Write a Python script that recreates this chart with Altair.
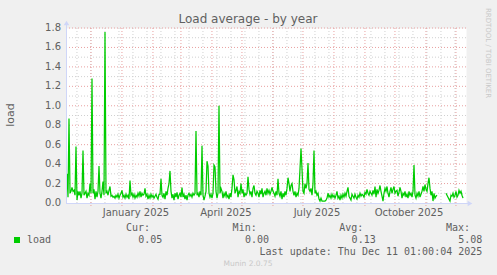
import altair as alt
import pandas as pd

# ---------------- data ----------------
START = pd.Timestamp("2024-11-06 01:00:00")
END = pd.Timestamp("2025-12-11 01:00:00")
DAY = pd.Timedelta(days=1)
SPAN = (END - START) / DAY  # 400 days shown

# daily load average, day 1 .. 397 after START (None = no data)
load = [
    0.30, 0.06, 0.87, 0.10, 0.12, 0.16, 0.12, 0.13, 0.08, 0.58,
    0.03, 0.12, 0.08, 0.12, 0.05, 0.10, 0.54, 0.08, 0.10, 0.12,
    0.05, 0.10, 0.08, 0.20, 0.10, 1.28, 0.10, 0.14, 0.04, 0.12,
    0.06, 0.12, 0.38, 0.10, 0.05, 0.12, 0.22, 0.08, 1.76, 0.10,
    0.12, 0.08, 0.13, 0.17, 0.07, 0.08, 0.06, 0.07, 0.05, 0.08,
    0.06, 0.09, 0.05, 0.08, 0.10, 0.13, 0.06, 0.08, 0.05, 0.09,
    0.06, 0.08, 0.04, 0.23, 0.08, 0.10, 0.06, 0.09, 0.05, 0.08,
    0.06, 0.10, 0.07, 0.12, 0.06, 0.10, 0.08, 0.09, 0.15, 0.07,
    0.09, 0.04, 0.08, 0.05, 0.09, 0.06, 0.08, 0.05, 0.07, 0.09,
    0.06, 0.04, 0.09, 0.09, 0.25, 0.08, 0.06, 0.10, 0.04, 0.12,
    0.08, 0.15, 0.20, 0.33, 0.12, 0.05, 0.09, 0.03, 0.10, 0.06,
    0.11, 0.04, 0.08, 0.10, 0.06, 0.16, 0.06, 0.09, 0.04, 0.08,
    0.03, 0.08, 0.10, 0.07, 0.09, 0.06, 0.10, 0.08, 0.10, 0.74,
    0.08, 0.10, 0.06, 0.12, 0.08, 0.59, 0.08, 0.03, 0.07, 0.12,
    0.43, 0.38, 0.10, 0.06, 0.09, 0.05, 0.10, 0.39, 0.37, 0.12,
    0.05, 0.10, 1.00, 0.10, 0.15, 0.12, 0.05, 0.10, 0.07, 0.12,
    0.06, 0.08, 0.04, 0.10, 0.06, 0.15, 0.29, 0.24, 0.10, 0.13,
    0.17, 0.06, 0.12, 0.10, 0.20, 0.10, 0.14, 0.06, 0.10, 0.08,
    0.10, 0.27, 0.14, 0.09, 0.12, 0.06, 0.15, 0.18, 0.10, 0.08,
    0.12, 0.10, 0.06, 0.13, 0.09, 0.15, 0.06, 0.10, 0.12, 0.08,
    0.15, 0.10, 0.13, 0.09, 0.12, 0.16, 0.12, 0.10, 0.07, 0.12,
    0.08, 0.25, 0.10, 0.07, 0.12, 0.04, 0.10, 0.06, 0.12, 0.08,
    0.15, 0.26, 0.20, 0.12, 0.18, 0.20, 0.12, 0.08, 0.12, 0.06,
    0.10, 0.08, 0.15, 0.35, 0.56, 0.35, 0.12, 0.10, 0.20, 0.15,
    0.20, 0.41, 0.14, 0.12, 0.15, 0.08, 0.20, 0.54,
    0.10, 0.12, 0.08, 0.10, 0.04, 0.02, 0.05, 0.02, 0.02, 0.02,
    0.02, 0.03, 0.05, 0.10, 0.06, 0.08, 0.05, 0.09, 0.06, 0.08,
    0.05, 0.08, 0.12, 0.05, 0.07, 0.03, 0.08, 0.05, 0.09, 0.06,
    0.10, 0.07, 0.12, 0.16, 0.07, 0.05, 0.03, 0.09, 0.07, 0.05,
    0.09, 0.06, 0.04, 0.08, 0.06, 0.10, 0.07, 0.09, 0.08, 0.06,
    0.11, 0.09, 0.14, 0.10, 0.08, 0.12, 0.10, 0.08, 0.13, 0.09,
    0.17, 0.06, 0.14, 0.10, 0.13, 0.18, 0.12, 0.07, 0.02, 0.10,
    0.15, 0.12, 0.17, 0.10, 0.06, 0.12, 0.16, 0.10, 0.14, 0.17,
    0.10, 0.12, 0.13, 0.07, 0.11, 0.16, 0.12, 0.05, 0.10, 0.08,
    0.12, 0.06, 0.09, 0.05, 0.12, 0.08, 0.10, 0.06, 0.12, 0.39,
    0.08, 0.05, 0.10, 0.07, 0.12, 0.06, 0.09, 0.12, 0.17, 0.12,
    0.19, 0.14, 0.12, 0.20, 0.26, 0.15, 0.08, 0.12, 0.02, 0.10,
    0.05, 0.07, 0.08,
    None, None, None, None, None, None, None, None,
    0.10, 0.08, 0.06, 0.04, 0.02, 0.08, 0.07, 0.10, 0.06, 0.08,
    0.12, 0.06, 0.08, 0.13, 0.10, 0.12, 0.08, 0.05,
]

month_starts = ["2024-12-01", "2025-01-01", "2025-02-01", "2025-03-01",
                "2025-04-01", "2025-05-01", "2025-06-01", "2025-07-01",
                "2025-08-01", "2025-09-01", "2025-10-01", "2025-11-01",
                "2025-12-01"]
minor_dates = list(pd.date_range("2024-11-17", "2025-12-10", freq="14D"))
label_dates = ["2025-01-15", "2025-04-15", "2025-07-15", "2025-10-15"]
label_texts = ["January 2025", "April 2025", "July 2025", "October 2025"]
y_major = [0.0, 0.2, 0.4, 0.6, 0.8, 1.0, 1.2, 1.4, 1.6, 1.8]
y_minor = [0.1, 0.3, 0.5, 0.7, 0.9, 1.1, 1.3, 1.5, 1.7]

stat_names = ["Cur:", "Min:", "Avg:", "Max:"]
stat_values = ["0.05", "0.00", "0.13", "5.08"]
last_update = "Last update: Thu Dec 11 01:00:04 2025"

# ---------------- styling ----------------
W, H = 400, 175
FONT = "DejaVu Sans"
MONO = "DejaVu Sans Mono"
TXT = "#606060"
AXIS = "#CFD6F8"
GREEN = "#00CC00"
MAJ = "#E8A0A0"
MIN = "#D0D0D0"


def offs(dates):
    return [(pd.Timestamp(d) - START) / DAY for d in dates]


rows = []
seg = 0
for i, v in enumerate(load):
    if v is None:
        seg += 1
        continue
    rows.append({"day": i + 1, "load": v, "seg": seg})
line_df = pd.DataFrame(rows)

xs = alt.Scale(domain=[0, SPAN], nice=False, zero=False)
ys = alt.Scale(domain=[0, 1.8], nice=False, zero=True)

ymin_grid = alt.Chart(pd.DataFrame({"v": y_minor})).mark_rule(
    color=MIN, strokeWidth=1, strokeDash=[1, 2]
).encode(y=alt.Y("v:Q", scale=ys, axis=None), x=alt.value(0), x2=alt.value(W))

ymaj_grid = alt.Chart(pd.DataFrame({"v": y_major[1:]})).mark_rule(
    color=MAJ, strokeWidth=1, strokeDash=[1, 2]
).encode(y=alt.Y("v:Q", scale=ys, axis=None), x=alt.value(0), x2=alt.value(W))

xmin_grid = alt.Chart(pd.DataFrame({"d": offs(minor_dates)})).mark_rule(
    color=MIN, strokeWidth=1, strokeDash=[1, 2]
).encode(x=alt.X("d:Q", scale=xs, axis=None), y=alt.value(0), y2=alt.value(H))

xmaj_grid = alt.Chart(pd.DataFrame({"d": offs(month_starts)})).mark_rule(
    color=MAJ, strokeWidth=1, strokeDash=[1, 2]
).encode(x=alt.X("d:Q", scale=xs, axis=None), y=alt.value(0), y2=alt.value(H + 3))

line = alt.Chart(line_df).mark_line(color=GREEN, strokeWidth=1.25).encode(
    x=alt.X("day:Q", scale=xs, axis=None),
    y=alt.Y("load:Q", scale=ys, axis=None),
    detail="seg:N",
)

one = pd.DataFrame({"k": [0]})
left_axis = alt.Chart(one).mark_rule(color=AXIS, strokeWidth=1).encode(
    x=alt.value(0.5), y=alt.value(H), y2=alt.value(-4))
bottom_axis = alt.Chart(one).mark_rule(color=AXIS, strokeWidth=1).encode(
    x=alt.value(0), x2=alt.value(W + 3), y=alt.value(H + 0.5))
up_arrow = alt.Chart(one).mark_point(shape="triangle-up", filled=True, size=30,
                                     color=AXIS, opacity=1).encode(
    x=alt.value(0.5), y=alt.value(-5))
right_arrow = alt.Chart(one).mark_point(shape="triangle-right", filled=True, size=30,
                                        color=AXIS, opacity=1).encode(
    x=alt.value(W + 4), y=alt.value(H + 0.5))

ylabels = alt.Chart(pd.DataFrame({"v": y_major})).mark_text(
    font=FONT, fontSize=10, color=TXT, align="right", baseline="middle"
).encode(y=alt.Y("v:Q", scale=ys, axis=None), x=alt.value(-5),
         text=alt.Text("v:Q", format=".1f"))

xlabels = alt.Chart(pd.DataFrame({"d": offs(label_dates), "t": label_texts})).mark_text(
    font=FONT, fontSize=10, color=TXT, align="center", baseline="middle"
).encode(x=alt.X("d:Q", scale=xs, axis=None), y=alt.value(H + 10), text="t:N")


def txt(text, x, y, size=10, font=FONT, color=TXT, align="left", angle=0):
    kw = dict(font=font, fontSize=size, color=color, align=align, baseline="middle")
    if angle:
        kw["angle"] = angle
    return alt.Chart(pd.DataFrame({"t": [text]})).mark_text(**kw).encode(
        x=alt.value(x), y=alt.value(y), text="t:N")


title = txt("Load average - by year", 182, -9, size=12, align="center")
ytitle = txt("load", -55, 87, size=11, align="center", angle=270)
rrd = txt("RRDTOOL / TOBI OETIKER", 422, 25, size=7, color="#C8C8C8",
          align="center", angle=90)
munin = txt("Munin 2.0.75", 182, 236, size=7.5, color="#C8C8C8", align="center")

legend_sq = alt.Chart(one).mark_rect(color=GREEN).encode(
    x=alt.value(-52), x2=alt.value(-46), y=alt.value(209), y2=alt.value(215))
legend_name = txt("load", -39, 211.5, font=MONO)

name_x = [84, 190.7, 297.3, 404]
val_x = [96.3, 203, 309.7, 416.3]
stat_layers = []
for n, v, nx, vx in zip(stat_names, stat_values, name_x, val_x):
    stat_layers.append(txt(n, nx, 200, font=MONO, align="right"))
    stat_layers.append(txt(v, vx, 211.5, font=MONO, align="right"))
upd = txt(last_update, 416.3, 223.7, font=MONO, align="right")

chart = alt.layer(
    ymin_grid, xmin_grid, ymaj_grid, xmaj_grid, line,
    left_axis, bottom_axis, up_arrow, right_arrow,
    ylabels, xlabels, title, ytitle, rrd, munin,
    legend_sq, legend_name, *stat_layers, upd,
).properties(
    width=W, height=H,
    background="#F0F0F0",
    padding={"left": 66, "top": 28, "right": 31, "bottom": 72},
    autosize=alt.AutoSizeParams(type="none"),
).configure_view(fill="white", stroke="transparent")

chart.save("out.html", embed_options={"renderer": "svg", "actions": False})
